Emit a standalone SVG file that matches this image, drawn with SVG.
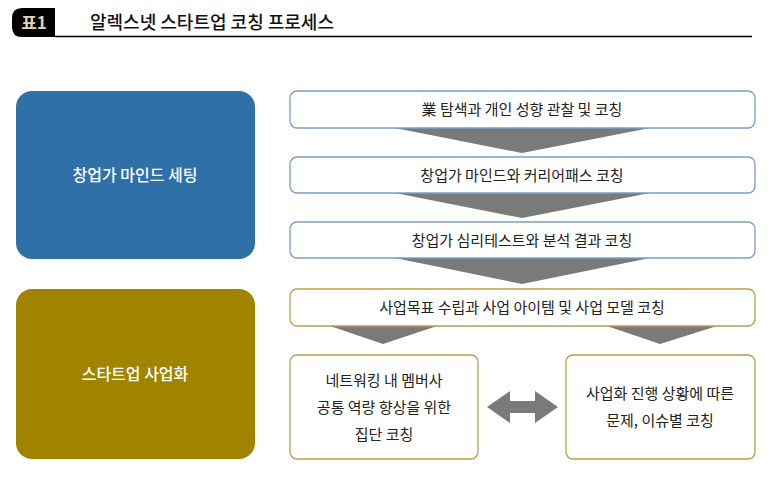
<svg xmlns="http://www.w3.org/2000/svg" width="770" height="477" viewBox="0 0 770 477">
<style>
text{font-family:"Noto Sans CJK KR","Noto Sans",sans-serif;text-anchor:middle}
.t{font-size:15px;fill:#222}
.w{font-size:16px;fill:#fff;font-weight:500}
.bb{fill:#fff;stroke:#7d9cc4;stroke-width:1.3}
.gb{fill:#fff;stroke:#b8a04a;stroke-width:1.3}
.ar{fill:#7a7a7a}
</style>
<rect width="770" height="477" fill="#fff"/>
<g id="title">
<path d="M22 8 H55 V37 H22 Q12 37 12 27 V18 Q12 8 22 8 Z" fill="#000"/>
<text x="34" y="29" style="font-size:17px;fill:#e6d3a4;font-weight:700">표1</text>
<line x1="55" y1="36.5" x2="752" y2="36.5" stroke="#000" stroke-width="1.5"/>
<text x="90" y="29" style="font-size:18px;fill:#111;font-weight:500;text-anchor:start">알렉스넷 스타트업 코칭 프로세스</text>
</g>
<g id="connectors">
<polygon class="ar" points="395,128 650,128 522,153"/>
<polygon class="ar" points="395,193 650,193 522,218"/>
<polygon class="ar" points="395,258 650,258 522,284"/>
<polygon class="ar" points="330,326 437,326 383,344"/>
<polygon class="ar" points="607,326 717,326 660,344"/>
<polygon class="ar" points="487,407 510,391 510,401 535,401 535,391 558,407 535,423 535,413 510,413 510,423"/>
</g>
<g id="n-setting"><rect x="16" y="91" width="239" height="168" rx="16" fill="#3070a8"/><text class="w" x="135" y="181">창업가 마인드 세팅</text></g>
<g id="n-biz"><rect x="16" y="289" width="239" height="170" rx="16" fill="#a08400"/><text class="w" x="135" y="380">스타트업 사업화</text></g>
<g id="n1"><rect class="bb" x="290" y="91" width="465" height="37" rx="7"/><text class="t" x="522" y="115">業 탐색과 개인 성향 관찰 및 코칭</text></g>
<g id="n2"><rect class="bb" x="290" y="157" width="465" height="36" rx="7"/><text class="t" x="522" y="181">창업가 마인드와 커리어패스 코칭</text></g>
<g id="n3"><rect class="bb" x="290" y="222" width="465" height="36" rx="7"/><text class="t" x="522" y="246">창업가 심리테스트와 분석 결과 코칭</text></g>
<g id="n4"><rect class="gb" x="290" y="289" width="465" height="37" rx="7"/><text class="t" x="522" y="313">사업목표 수립과 사업 아이템 및 사업 모델 코칭</text></g>
<g id="n5"><rect class="gb" x="290" y="355" width="188" height="104" rx="7"/><text class="t" x="384" y="386">네트워킹 내 멤버사</text><text class="t" x="384" y="413">공통 역량 향상을 위한</text><text class="t" x="384" y="440">집단 코칭</text></g>
<g id="n6"><rect class="gb" x="566" y="355" width="189" height="104" rx="7"/><text class="t" x="660" y="399">사업화 진행 상황에 따른</text><text class="t" x="660" y="426">문제, 이슈별 코칭</text></g>
</svg>
